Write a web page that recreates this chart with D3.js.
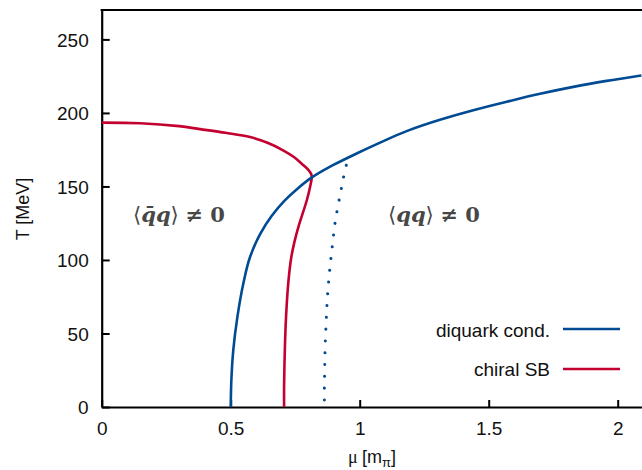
<!DOCTYPE html>
<html>
<head>
<meta charset="utf-8">
<script src="https://cdn.jsdelivr.net/npm/d3@7"></script>
<style>
  body { margin: 0; background: #fff; }
  svg text { font-family: "Liberation Sans", Arial, sans-serif; }
</style>
</head>
<body>
<div id="chart"></div>
<script>
// valeurs
let diquarkMu = [0.50, 0.503, 0.51, 0.526, 0.549, 0.575, 0.614, 0.657, 0.707, 0.761, 0.812, 0.898, 0.988, 1.079, 1.182, 1.311, 1.44, 1.57, 1.699, 1.828, 1.957, 2.092];
let diquarkT = [0, 20, 38.7, 61.3, 84, 102, 117.5, 129.5, 140, 148.8, 155.8, 164.6, 172.4, 179.8, 187.6, 195.3, 201.8, 207.6, 213, 217.7, 221.8, 225.5];

let chiralMu = [0, 0.15, 0.30, 0.381, 0.48, 0.575, 0.645, 0.703, 0.745, 0.775, 0.80, 0.812, 0.814, 0.808, 0.795, 0.765, 0.748, 0.735, 0.724, 0.715, 0.710, 0.707, 0.707];
let chiralT = [193.4, 193, 191, 189, 186.5, 183.6, 179.5, 174.6, 170, 165.5, 161.5, 158.5, 156, 150, 140.6, 124, 113, 102, 86, 63, 40, 15, 0];

let dottedMu = [0.863, 0.863, 0.864, 0.865, 0.867, 0.871, 0.876, 0.884, 0.894, 0.905, 0.92, 0.93, 0.939, 0.95];
let dottedT = [4.8, 12.7, 20.9, 33, 45.3, 61.3, 77.4, 93.5, 109.6, 125.7, 140.6, 149.7, 157.6, 166];

let xTicks = [0, 0.5, 1, 1.5, 2];
let yTicks = [0, 50, 100, 150, 200, 250];

let width = 642;
let height = 470;
let blue = "#004b93";
let red = "#c3002f";

let svg = d3
  .select("#chart")
  .append("svg")
  .attr("width", width)
  .attr("height", height);

let x = d3.scaleLinear().domain([0, 2.1]).range([101.7, 101.7 + 258 * 2.1]);
let y = d3.scaleLinear().domain([0, 270]).range([407, 10]);

svg
  .append("clipPath")
  .attr("id", "clip")
  .append("rect")
  .attr("x", x(0))
  .attr("y", y(270))
  .attr("width", x(2.1) - x(0))
  .attr("height", y(0) - y(270));

// axes
let xAxis = d3
  .axisBottom(x)
  .tickValues(xTicks)
  .tickFormat(d3.format(""))
  .tickSizeInner(-7)
  .tickSizeOuter(0)
  .tickPadding(15);

let yAxis = d3
  .axisLeft(y)
  .tickValues(yTicks)
  .tickSizeInner(-8)
  .tickSizeOuter(0)
  .tickPadding(13);

let gx = svg.append("g").attr("transform", "translate(0," + y(0) + ")").call(xAxis);
let gy = svg.append("g").attr("transform", "translate(" + x(0) + ",0)").call(yAxis);

[gx, gy].forEach((g) => {
  g.select(".domain").attr("stroke", "#000").attr("stroke-width", 2.2);
  g.selectAll(".tick line").attr("stroke", "#000").attr("stroke-width", 2);
  g.selectAll(".tick text")
    .attr("fill", "#111")
    .style("font-size", "19px")
    .style("font-family", "'Liberation Sans', Arial, sans-serif");
});
gy.selectAll(".tick text").attr("dy", "0.36em");

// cadre du haut
svg
  .append("line")
  .attr("x1", x(0) - 1.1)
  .attr("x2", width)
  .attr("y1", y(270))
  .attr("y2", y(270))
  .attr("stroke", "#000")
  .attr("stroke-width", 2.2);

// courbes
let line = d3
  .line()
  .x((d) => x(d[0]))
  .y((d) => y(d[1]))
  .curve(d3.curveCatmullRom.alpha(0.5));

let plot = svg.append("g").attr("clip-path", "url(#clip)");

plot
  .append("path")
  .attr("d", line(dottedMu.map((m, i) => [m, dottedT[i]])))
  .attr("fill", "none")
  .attr("stroke", blue)
  .attr("stroke-width", 3)
  .attr("stroke-linecap", "round")
  .attr("stroke-dasharray", "0.1 11.7");

plot
  .append("path")
  .attr("d", line(chiralMu.map((m, i) => [m, chiralT[i]])))
  .attr("fill", "none")
  .attr("stroke", red)
  .attr("stroke-width", 2.6);

plot
  .append("path")
  .attr("d", line.curve(d3.curveMonotoneY)(diquarkMu.map((m, i) => [m, diquarkT[i]])))
  .attr("fill", "none")
  .attr("stroke", blue)
  .attr("stroke-width", 2.6);

// légende
let legend = [
  { label: "diquark cond.", color: blue, y: 329, base: 337 },
  { label: "chiral SB", color: red, y: 369, base: 376 }
];
legend.forEach((d) => {
  svg
    .append("text")
    .attr("x", 550)
    .attr("y", d.base)
    .attr("text-anchor", "end")
    .style("font-size", "19px")
    .attr("fill", "#111")
    .text(d.label);
  svg
    .append("line")
    .attr("x1", 563)
    .attr("x2", 620)
    .attr("y1", d.y)
    .attr("y2", d.y)
    .attr("stroke", d.color)
    .attr("stroke-width", 2.6);
});

// étiquettes des phases
function phaseLabel(px, inner) {
  let t = svg
    .append("text")
    .attr("x", px)
    .attr("y", 222)
    .attr("fill", "#474747")
    .style("font-family", "'DejaVu Serif', serif")
    .style("font-size", "21px")
    .style("font-weight", "bold");
  t.append("tspan").style("font-weight", "normal").text("\u27E8");
  t.append("tspan").style("font-style", "italic").text(inner);
  t.append("tspan").style("font-weight", "normal").text("\u27E9 ");
  t.append("tspan").text("\u2260 0");
}
phaseLabel(133, "q\u0304q");
phaseLabel(388, "qq");

// titres des axes
let xt = svg
  .append("text")
  .attr("x", 372)
  .attr("y", 463)
  .attr("text-anchor", "middle")
  .attr("fill", "#111")
  .style("font-size", "18px");
xt.append("tspan").style("font-family", "'Liberation Serif', serif").text("\u03BC ");
xt.append("tspan").text("[m");
xt.append("tspan").attr("dy", 4).style("font-size", "13px").text("\u03C0");
xt.append("tspan").attr("dy", -4).text("]");

svg
  .append("text")
  .attr("transform", "translate(29,209) rotate(-90)")
  .attr("text-anchor", "middle")
  .attr("fill", "#111")
  .style("font-size", "18px")
  .text("T [MeV]");
</script>
</body>
</html>
